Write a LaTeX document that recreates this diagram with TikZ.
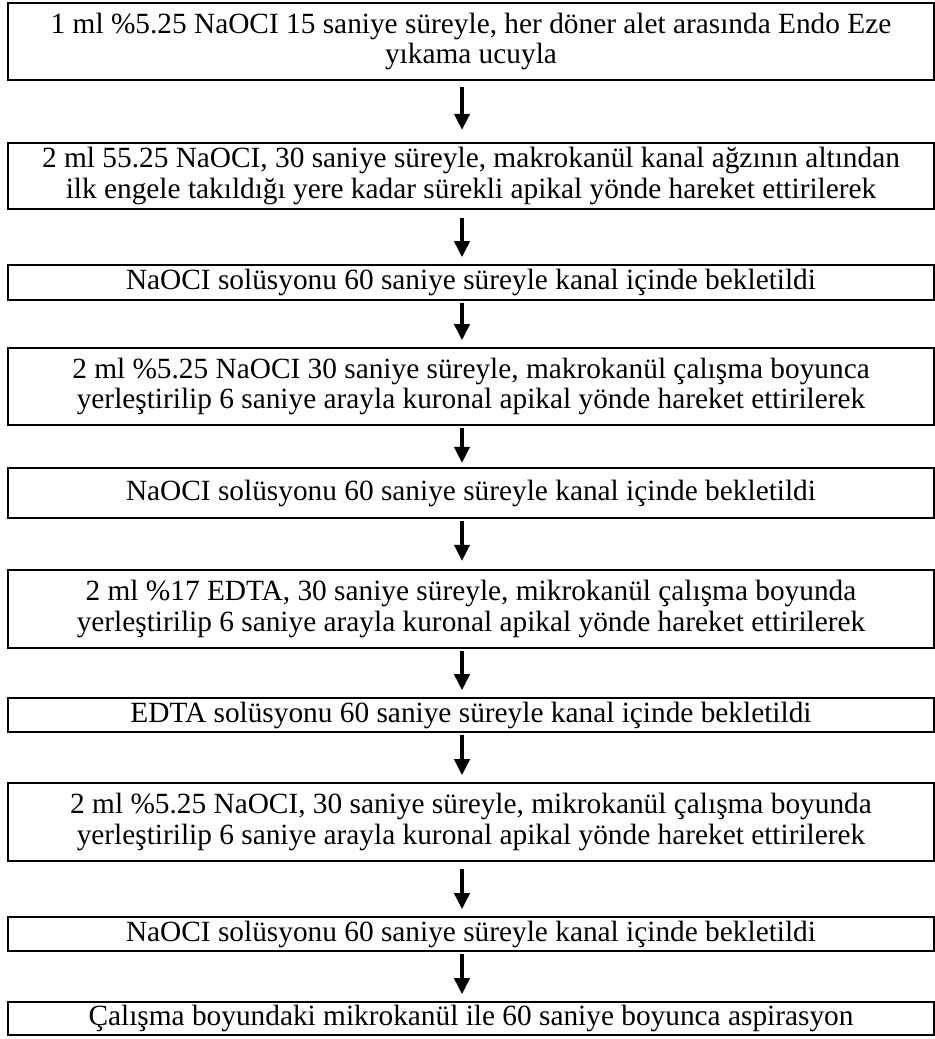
\documentclass[tikz,border=0pt]{standalone}
\usepackage{fontspec}
\setmainfont{Liberation Serif}
\usetikzlibrary{arrows.meta}

\tikzset{
  stepbox/.style={draw, line width=1.8pt, rectangle, align=center, inner sep=0pt,
    minimum width=694.5pt, font=\fontsize{22}{23}\selectfont},
  flow/.style={line width=2.3pt, -{Triangle[width=11.5pt,length=12pt]}}
}

\begin{document}
\begin{tikzpicture}[x=0.75pt, y=-0.75pt]
    \useasboundingbox (0,0) rectangle (935,1039);
    % Axis of the arrows
    \coordinate (ax) at (462,0);

    % Steps
    \node[stepbox, minimum height=57.75pt] (s1) at (471,41.5)
        {1 ml \%5.25 NaOCI 15 saniye süreyle, her döner alet arasında Endo Eze\\yıkama ucuyla};
    \node[stepbox, minimum height=49.5pt] (s2) at (471,176)
        {2 ml 55.25 NaOCI, 30 saniye süreyle, makrokanül kanal ağzının altından\\ilk engele takıldığı yere kadar sürekli apikal yönde hareket ettirilerek};
    \node[stepbox, minimum height=26.25pt] (s3) at (471,282.5)
        {NaOCI solüsyonu 60 saniye süreyle kanal içinde bekletildi};
    \node[stepbox, minimum height=57.75pt] (s4) at (471,386.5)
        {2 ml \%5.25 NaOCI 30 saniye süreyle, makrokanül çalışma boyunca\\yerleştirilip 6 saniye arayla kuronal apikal yönde hareket ettirilerek};
    \node[stepbox, minimum height=37.5pt] (s5) at (471,493)
        {NaOCI solüsyonu 60 saniye süreyle kanal içinde bekletildi};
    \node[stepbox, minimum height=58.5pt] (s6) at (471,609)
        {2 ml \%17 EDTA, 30 saniye süreyle, mikrokanül çalışma boyunda\\yerleştirilip 6 saniye arayla kuronal apikal yönde hareket ettirilerek};
    \node[stepbox, minimum height=25.5pt] (s7) at (471,715)
        {EDTA solüsyonu 60 saniye süreyle kanal içinde bekletildi};
    \node[stepbox, minimum height=58.5pt] (s8) at (471,822)
        {2 ml \%5.25 NaOCI, 30 saniye süreyle, mikrokanül çalışma boyunda\\yerleştirilip 6 saniye arayla kuronal apikal yönde hareket ettirilerek};
    \node[stepbox, minimum height=25.5pt] (s9) at (471,934)
        {NaOCI solüsyonu 60 saniye süreyle kanal içinde bekletildi};
    \node[stepbox, minimum height=24.75pt] (s10) at (471,1018.5)
        {Çalışma boyundaki mikrokanül ile 60 saniye boyunca aspirasyon};

    % Arrows
    \draw[flow, shorten <=4.5pt, shorten >=9pt] (s1.south -| ax) -- (s2.north -| ax);
    \draw[flow, shorten <=6pt, shorten >=5pt] (s2.south -| ax) -- (s3.north -| ax);
    \draw[flow, shorten <=1pt, shorten >=5pt] (s3.south -| ax) -- (s4.north -| ax);
    \draw[flow, shorten <=1pt, shorten >=3pt] (s4.south -| ax) -- (s5.north -| ax);
    \draw[flow, shorten <=1pt, shorten >=6pt] (s5.south -| ax) -- (s6.north -| ax);
    \draw[flow, shorten <=1pt, shorten >=5pt] (s6.south -| ax) -- (s7.north -| ax);
    \draw[flow, shorten <=1pt, shorten >=5pt] (s7.south -| ax) -- (s8.north -| ax);
    \draw[flow, shorten <=5pt, shorten >=5pt] (s8.south -| ax) -- (s9.north -| ax);
    \draw[flow, shorten <=1pt, shorten >=5pt] (s9.south -| ax) -- (s10.north -| ax);
\end{tikzpicture}
\end{document}
